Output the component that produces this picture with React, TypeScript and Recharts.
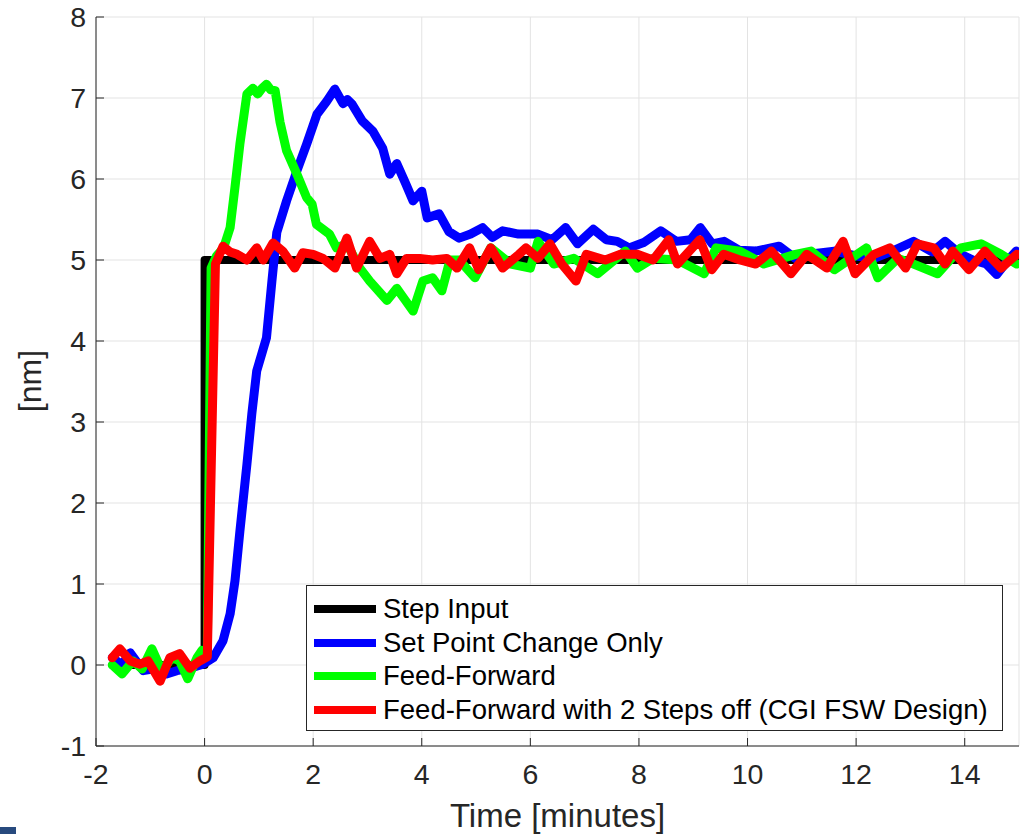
import React from 'react';
import {
    LineChart, Line, XAxis, YAxis, CartesianGrid, Legend
} from 'recharts';

// [time (minutes), value (nm)]
const stepInput: [number, number][] = [
    [-1.7, 0], [0, 0], [0, 5], [15, 5],
];

const setPointOnly: [number, number][] = [
    [-1.7, 0.09], [-1.52, 0.0], [-1.37, 0.15], [-1.13, -0.07], [-0.88, -0.04], [-0.7, -0.11],
    [-0.51, -0.07], [-0.27, -0.04], [-0.03, 0.01], [0.16, 0.09], [0.34, 0.3], [0.47, 0.63],
    [0.56, 1.04], [0.65, 1.65], [0.78, 2.48], [0.87, 3.1], [0.96, 3.63], [1.07, 3.88],
    [1.14, 4.04], [1.24, 4.74], [1.33, 5.34], [1.51, 5.73], [1.7, 6.1], [1.88, 6.43],
    [2.07, 6.8], [2.25, 6.96], [2.4, 7.11], [2.55, 6.93], [2.63, 6.98], [2.71, 6.93],
    [2.9, 6.72], [3.1, 6.59], [3.28, 6.38], [3.41, 6.06], [3.54, 6.19], [3.7, 5.95],
    [3.84, 5.73], [4.0, 5.85], [4.1, 5.52], [4.32, 5.57], [4.5, 5.35], [4.69, 5.27],
    [4.9, 5.32], [5.12, 5.4], [5.3, 5.28], [5.49, 5.36], [5.78, 5.32], [6.14, 5.32],
    [6.4, 5.25], [6.65, 5.4], [6.87, 5.2], [7.16, 5.38], [7.4, 5.25], [7.6, 5.23],
    [7.82, 5.15], [8.1, 5.22], [8.4, 5.36], [8.69, 5.23], [8.95, 5.25], [9.13, 5.4],
    [9.35, 5.2], [9.57, 5.23], [9.85, 5.12], [10.15, 5.11], [10.58, 5.17], [10.88, 5.02],
    [11.25, 5.08], [11.6, 5.11], [12.0, 5.05], [12.33, 5.02], [12.7, 5.12], [13.06, 5.23],
    [13.4, 5.1], [13.64, 5.23], [13.9, 5.08], [14.15, 5.0], [14.4, 4.95], [14.59, 4.82],
    [14.8, 5.0], [14.95, 5.11],
];

const feedForward: [number, number][] = [
    [-1.7, 0.0], [-1.52, -0.11], [-1.32, 0.05], [-1.15, -0.05], [-0.97, 0.2], [-0.79, -0.07],
    [-0.6, 0.09], [-0.46, 0.05], [-0.31, -0.17], [-0.14, 0.09], [-0.05, 0.18], [0.05, 0.15],
    [0.12, 4.9], [0.22, 5.05], [0.35, 5.15], [0.47, 5.4], [0.56, 5.9], [0.65, 6.43],
    [0.78, 7.05], [0.89, 7.12], [0.98, 7.05], [1.06, 7.12], [1.14, 7.17], [1.22, 7.1],
    [1.3, 7.09], [1.39, 6.7], [1.51, 6.35], [1.7, 6.06], [1.88, 5.77], [1.98, 5.69],
    [2.06, 5.44], [2.3, 5.32], [2.43, 5.15], [2.62, 5.2], [2.86, 4.9], [3.04, 4.74],
    [3.2, 4.62], [3.36, 4.5], [3.54, 4.65], [3.7, 4.5], [3.84, 4.37], [4.02, 4.74],
    [4.2, 4.78], [4.37, 4.62], [4.52, 5.0], [4.69, 5.0], [4.98, 4.78], [5.27, 5.15],
    [5.64, 4.95], [6.0, 4.9], [6.14, 5.23], [6.43, 4.95], [6.8, 5.02], [7.24, 4.83],
    [7.75, 5.11], [7.97, 4.9], [8.26, 5.02], [8.71, 5.0], [9.2, 4.83], [9.42, 5.15],
    [9.86, 5.11], [10.3, 4.95], [10.88, 5.07], [11.17, 5.11], [11.6, 4.88], [12.19, 5.15],
    [12.4, 4.78], [12.77, 5.02], [13.06, 4.95], [13.5, 4.83], [13.93, 5.15], [14.3, 5.2],
    [14.67, 5.07], [14.96, 4.95],
];

const feedForwardStepsOff: [number, number][] = [
    [-1.7, 0.09], [-1.56, 0.2], [-1.37, 0.05], [-1.19, 0.01], [-1.04, 0.05], [-0.82, -0.2],
    [-0.64, 0.09], [-0.46, 0.14], [-0.27, -0.04], [-0.09, 0.05], [0.05, 0.1], [0.2, 4.95],
    [0.34, 5.17], [0.47, 5.1], [0.6, 5.07], [0.78, 5.0], [0.96, 5.15], [1.08, 5.0],
    [1.26, 5.21], [1.44, 5.11], [1.66, 4.9], [1.81, 5.09], [2.0, 5.07], [2.18, 5.02],
    [2.4, 4.9], [2.62, 5.27], [2.8, 4.9], [3.04, 5.23], [3.23, 5.02], [3.41, 5.07],
    [3.54, 4.83], [3.72, 5.02], [3.96, 5.02], [4.2, 5.0], [4.46, 5.02], [4.65, 4.9],
    [4.88, 5.15], [5.05, 4.88], [5.27, 5.15], [5.49, 4.9], [5.79, 5.07], [5.92, 5.15],
    [6.14, 5.02], [6.36, 5.2], [6.58, 4.95], [6.84, 4.74], [7.03, 5.07], [7.38, 5.0],
    [7.66, 5.07], [7.97, 5.07], [8.26, 5.0], [8.55, 5.25], [8.71, 4.95], [9.12, 5.25],
    [9.34, 4.88], [9.56, 5.07], [9.86, 5.0], [10.15, 4.95], [10.44, 5.11], [10.8, 4.83],
    [11.09, 5.07], [11.46, 4.9], [11.76, 5.23], [11.98, 4.83], [12.33, 5.07], [12.62, 5.15],
    [12.91, 4.9], [13.13, 5.2], [13.43, 5.15], [13.64, 4.95], [13.78, 5.11], [14.08, 4.88],
    [14.37, 5.11], [14.67, 4.9], [14.96, 5.07],
];

const xTicks = [-2, 0, 2, 4, 6, 8, 10, 12, 14];
const yTicks = [-1, 0, 1, 2, 3, 4, 5, 6, 7, 8];

const toRows = (pts: [number, number][]) => pts.map(([t, v]) => ({ t, v }));

const series = [
    { name: 'Step Input', color: '#000000', data: toRows(stepInput) },
    { name: 'Set Point Change Only', color: '#0000ff', data: toRows(setPointOnly) },
    { name: 'Feed-Forward', color: '#00ff00', data: toRows(feedForward) },
    { name: 'Feed-Forward with 2 Steps off (CGI FSW Design)', color: '#ff0000', data: toRows(feedForwardStepsOff) },
];

const FONT = '"Liberation Sans", Arial, Helvetica, sans-serif';
const AXIS = '#262626';

const LegendBox = () => (
    <div style={{
        width: 697, height: 146, boxSizing: 'border-box', background: '#fff',
        border: `1px solid ${AXIS}`, padding: '6px 0 0 7px', fontFamily: FONT
    }}>
        {series.map((s) => (
            <div key={s.name} style={{ display: 'flex', alignItems: 'center', height: 33.7 }}>
                <span style={{ width: 62, height: 8, background: s.color, marginRight: 7 }} />
                <span style={{ fontSize: 27.5, color: '#000', whiteSpace: 'nowrap' }}>{s.name}</span>
            </div>
        ))}
    </div>
);

const YLabel = () => (
    <text x={41} y={381} transform="rotate(-90 41 381)" textAnchor="middle"
        style={{ fontFamily: FONT, fontSize: 32, fill: AXIS }}>[nm]</text>
);

export default function App() {
    return (
        <div style={{ position: 'absolute', left: 0, top: 0, width: 1026, height: 834, background: '#fff' }}>
            <LineChart width={1026} height={834} margin={{ top: 17, right: 7, bottom: 0, left: 0 }}>
                <CartesianGrid stroke="#e3e3e3" strokeWidth={1} />
                <XAxis
                    type="number" dataKey="t" domain={[-2, 15]} ticks={xTicks} allowDataOverflow
                    height={88} tickSize={-8} tickMargin={26}
                    axisLine={{ stroke: AXIS }} tickLine={{ stroke: AXIS }}
                    tick={{ fill: AXIS, fontSize: 28.5, fontFamily: FONT }}
                    label={{ value: 'Time [minutes]', position: 'insideBottom', offset: 7, fill: AXIS, fontSize: 33, fontFamily: FONT }}
                />
                <XAxis
                    xAxisId="top" orientation="top" type="number" domain={[-2, 15]} ticks={xTicks} allowDataOverflow
                    height={0} tickSize={-8} tick={false}
                    axisLine={{ stroke: AXIS }} tickLine={{ stroke: AXIS }}
                />
                <YAxis
                    type="number" domain={[-1, 8]} ticks={yTicks} allowDataOverflow
                    width={96} tickSize={-8} tickMargin={18}
                    axisLine={{ stroke: AXIS }} tickLine={{ stroke: AXIS }}
                    tick={{ fill: AXIS, fontSize: 28.5, fontFamily: FONT }}
                    label={YLabel}
                />
                <YAxis
                    yAxisId="right" orientation="right" type="number" domain={[-1, 8]} ticks={yTicks} allowDataOverflow
                    width={0} tickSize={-8} tick={false}
                    axisLine={{ stroke: AXIS }} tickLine={{ stroke: AXIS }}
                />
                {series.map((s, i) => (
                    <Line
                        key={s.name}
                        data={s.data}
                        dataKey="v"
                        name={s.name}
                        type="linear"
                        stroke={s.color}
                        strokeWidth={i === 0 ? 8 : 9}
                        strokeLinejoin="round"
                        strokeLinecap="round"
                        dot={false}
                        activeDot={false}
                        isAnimationActive={false}
                    />
                ))}
                <Legend
                    layout="horizontal" verticalAlign="middle" align="center"
                    wrapperStyle={{ position: 'absolute', left: 306, top: 585, width: 697 }}
                    content={() => <LegendBox />}
                />
            </LineChart>
            <div style={{ position: 'absolute', left: 0, top: 827, width: 16, height: 7, background: '#284a7e' }} />
        </div>
    );
}
